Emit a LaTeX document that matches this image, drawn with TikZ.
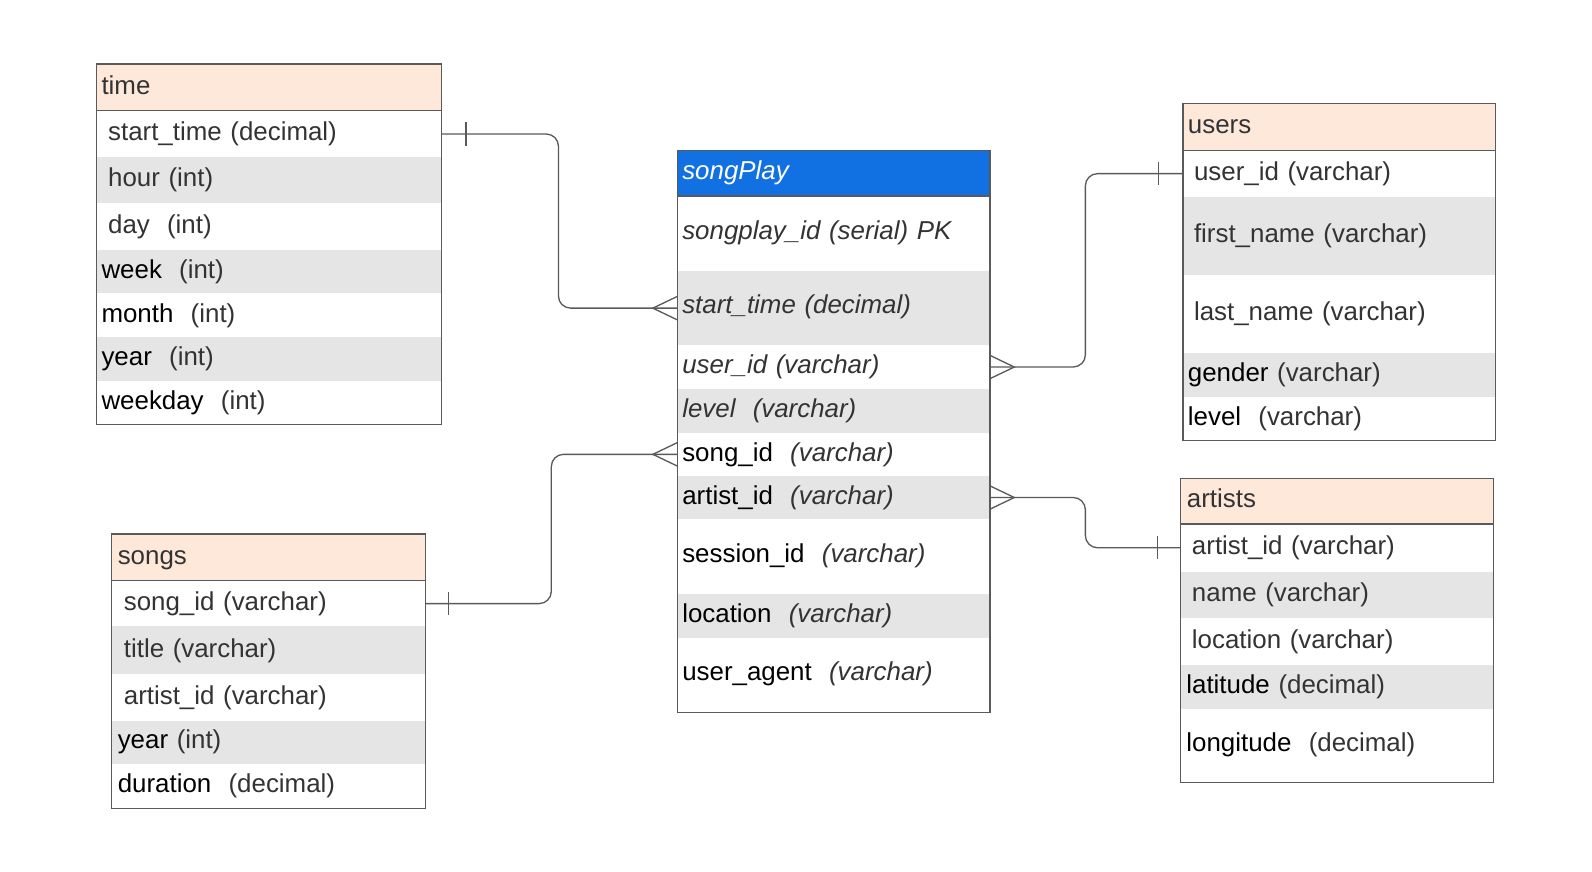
\documentclass[tikz,border=0pt]{standalone}
\usepackage{fontspec}
\setmainfont{Liberation Sans}
\definecolor{peach}{RGB}{253,232,218}
\definecolor{rowgray}{RGB}{229,229,229}
\definecolor{spblue}{RGB}{18,113,226}
\definecolor{dtext}{RGB}{51,51,51}
\definecolor{edgecol}{RGB}{90,90,90}
\newcommand\erfont{\fontsize{25.5}{30}\selectfont}
\newcommand\bk[1]{{\color{black}#1}}
\begin{document}
\begin{tikzpicture}[x=1pt,y=-1pt,
  cell/.style={anchor=north west, inner ysep=0pt, inner xsep=0pt, outer sep=0pt,
    text height=18.3pt, text depth=5pt, align=left, font=\erfont, text=dtext},
  tall/.style={text depth=7pt},
  wA/.style={cell, text width=340pt},
  wB/.style={cell, text width=308pt},
  wC/.style={cell, text width=309pt},
  hd/.style={fill=peach},
  gr/.style={fill=rowgray},
  boxline/.style={draw=edgecol, line width=1.3pt},
  conn/.style={draw=edgecol, line width=1.3pt},
  tick/.style={draw=edgecol, line width=1.3pt}
]
\useasboundingbox[fill=white] (0,0) rectangle (1568,858);

% ---------------- time ----------------
\node[wA, hd, minimum height=46pt] (th) at (95,63) {\hspace*{5pt}time};
\node[wA, minimum height=46pt] (t1) at (95,109) {\hspace*{11.5pt}start\_time (decimal)};
\node[wA, gr, minimum height=45pt] (t2) at (95,155) {\hspace*{11.5pt}hour (int)};
\node[wA, minimum height=46pt] (t3) at (95,200) {\hspace*{11.5pt}day~ (int)};
\node[wA, gr, minimum height=43pt] (t4) at (95,246) {\hspace*{5pt}\bk{week}~ (int)};
\node[wA, minimum height=43pt] (t5) at (95,289) {\hspace*{5pt}\bk{month}~ (int)};
\node[wA, gr, minimum height=43pt] (t6) at (95,332) {\hspace*{5pt}\bk{year}~ (int)};
\node[wA, minimum height=43pt] (t7) at (95,375) {\hspace*{5pt}\bk{weekday}~ (int)};
\draw[boxline] (th.north west) rectangle (t7.south east);
\draw[boxline] (th.south west) -- (th.south east);

% ---------------- songPlay ----------------
\node[wB, fill=spblue, text=white, minimum height=45pt] (sph) at (667,148) {\hspace*{5pt}\textit{songPlay}};
\node[wB, tall, minimum height=74pt] (sp1) at (667,193) {\hspace*{5pt}\textit{songplay\_id (serial) PK}};
\node[wB, tall, gr, minimum height=73pt] (sp2) at (667,267) {\hspace*{5pt}\textit{start\_time (decimal)}};
\node[wB, minimum height=43pt] (sp3) at (667,340) {\hspace*{5pt}\textit{user\_id (varchar)}};
\node[wB, gr, minimum height=43pt] (sp4) at (667,383) {\hspace*{5pt}\textit{level~ (varchar)}};
\node[wB, minimum height=43pt] (sp5) at (667,426) {\hspace*{5pt}\bk{song\_id}~ \textit{(varchar)}};
\node[wB, gr, minimum height=42pt] (sp6) at (667,469) {\hspace*{5pt}\bk{artist\_id}~ \textit{(varchar)}};
\node[wB, tall, minimum height=74pt] (sp7) at (667,511) {\hspace*{5pt}\bk{session\_id}~ \textit{(varchar)}};
\node[wB, gr, minimum height=43pt] (sp8) at (667,585) {\hspace*{5pt}\bk{location}~ \textit{(varchar)}};
\node[wB, tall, minimum height=74pt] (sp9) at (667,628) {\hspace*{5pt}\bk{user\_agent}~ \textit{(varchar)}};
\draw[boxline] (sph.north west) rectangle (sp9.south east);
\draw[boxline] (sph.south west) -- (sph.south east);

% ---------------- users ----------------
\node[wB, hd, minimum height=46pt] (uh) at (1165,102) {\hspace*{5pt}users};
\node[wB, minimum height=46pt] (u1) at (1165,148) {\hspace*{11pt}user\_id (varchar)};
\node[wB, gr, minimum height=77pt] (u2) at (1165,194) {\hspace*{11pt}first\_name (varchar)};
\node[wB, minimum height=77pt] (u3) at (1165,271) {\hspace*{11pt}last\_name (varchar)};
\node[wB, gr, minimum height=43pt] (u4) at (1165,348) {\hspace*{5pt}\bk{gender} (varchar)};
\node[wB, minimum height=43pt] (u5) at (1165,391) {\hspace*{5pt}\bk{level}~ (varchar)};
\draw[boxline] (uh.north west) rectangle (u5.south east);
\draw[boxline] (uh.south west) -- (uh.south east);

% ---------------- artists ----------------
\node[wB, hd, minimum height=45pt] (ah) at (1163,471) {\hspace*{6pt}artists};
\node[wB, minimum height=47pt] (a1) at (1163,516) {\hspace*{11pt}artist\_id (varchar)};
\node[wB, gr, minimum height=46pt] (a2) at (1163,563) {\hspace*{11pt}name (varchar)};
\node[wB, minimum height=46pt] (a3) at (1163,609) {\hspace*{11pt}location (varchar)};
\node[wB, gr, minimum height=43pt] (a4) at (1163,655) {\hspace*{5.5pt}\bk{latitude} (decimal)};
\node[wB, tall, minimum height=73pt] (a5) at (1163,698) {\hspace*{5.5pt}\bk{longitude}~ (decimal)};
\draw[boxline] (ah.north west) rectangle (a5.south east);
\draw[boxline] (ah.south west) -- (ah.south east);

% ---------------- songs ----------------
\node[wC, hd, minimum height=46pt] (sh) at (110,526) {\hspace*{6pt}songs};
\node[wC, minimum height=45pt] (s1) at (110,572) {\hspace*{12pt}song\_id (varchar)};
\node[wC, gr, minimum height=47pt] (s2) at (110,617) {\hspace*{12pt}title (varchar)};
\node[wC, minimum height=46pt] (s3) at (110,664) {\hspace*{12pt}artist\_id (varchar)};
\node[wC, gr, minimum height=42pt] (s4) at (110,710) {\hspace*{6pt}\bk{year} (int)};
\node[wC, minimum height=44pt] (s5) at (110,752) {\hspace*{6pt}\bk{duration}~ (decimal)};
\draw[boxline] (sh.north west) rectangle (s5.south east);
\draw[boxline] (sh.south west) -- (sh.south east);

% ---------------- connectors ----------------
\coordinate (j1) at (550,0);
\coordinate (j2) at (543,0);
\coordinate (j3) at (1069,0);

\draw[conn, rounded corners=12pt] (t1.east) -| (j1 |- sp2.west) -- (sp2.west);
\draw[conn, rounded corners=12pt] (s1.east) -| (j2 |- sp5.west) -- (sp5.west);
\draw[conn, rounded corners=12pt] (sp3.east) -| (j3 |- u1.west) -- (u1.west);
\draw[conn, rounded corners=12pt] (sp6.east) -| (j3 |- a1.west) -- (a1.west);

% one-side ticks
\draw[tick] ([xshift=24pt,yshift=11.5pt]t1.east) -- ([xshift=24pt,yshift=-11.5pt]t1.east);
\draw[tick] ([xshift=23pt,yshift=11.5pt]s1.east) -- ([xshift=23pt,yshift=-11.5pt]s1.east);
\draw[tick] ([xshift=-24pt,yshift=11.5pt]u1.west) -- ([xshift=-24pt,yshift=-11.5pt]u1.west);
\draw[tick] ([xshift=-23pt,yshift=11.5pt]a1.west) -- ([xshift=-23pt,yshift=-11.5pt]a1.west);

% crow's feet
\draw[conn] ([yshift=11.5pt]sp2.west) -- ([xshift=-24pt]sp2.west) -- ([yshift=-11.5pt]sp2.west);
\draw[conn] ([yshift=11.5pt]sp5.west) -- ([xshift=-24pt]sp5.west) -- ([yshift=-11.5pt]sp5.west);
\draw[conn] ([yshift=11.5pt]sp3.east) -- ([xshift=24pt]sp3.east) -- ([yshift=-11.5pt]sp3.east);
\draw[conn] ([yshift=11.5pt]sp6.east) -- ([xshift=24pt]sp6.east) -- ([yshift=-11.5pt]sp6.east);
\end{tikzpicture}
\end{document}
